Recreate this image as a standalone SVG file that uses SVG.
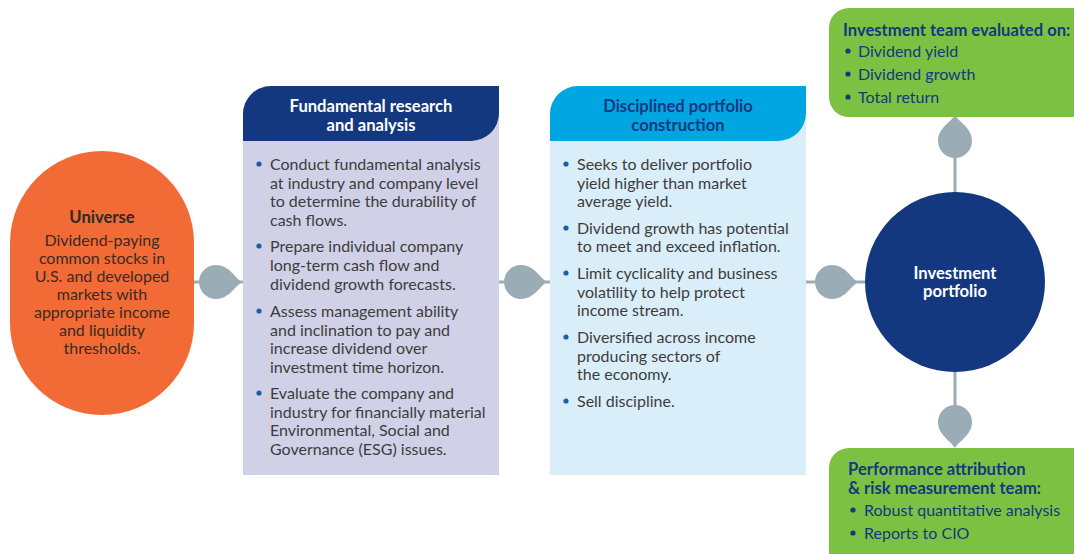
<svg xmlns="http://www.w3.org/2000/svg" width="1074" height="554" viewBox="0 0 1074 554">
<defs>
<style>
.t{font-family:Lato,"Open Sans","Liberation Sans",sans-serif;font-size:16px;fill:#3d3d3d}
.b{font-weight:bold;font-size:16.6px}
.w{fill:#ffffff}
.n{fill:#14387f}
.c{text-anchor:middle}
.bl{fill:#1a5ea8}
.bn{fill:#14387f}
.ln{stroke:#9aadb7;stroke-width:3;fill:none}
.dr{fill:#9aadb7}
</style>
<path id="drop" d="M26 0 C19 4 13 17 0 17 A17 17 0 0 1 0 -17 C13 -17 19 -4 26 0 Z"/>
</defs>
<rect width="1074" height="554" fill="#ffffff"/>

<g id="connectors">
<line class="ln" x1="190" y1="282" x2="245" y2="282"/>
<use href="#drop" class="dr" transform="translate(216,282)"/>
<line class="ln" x1="495" y1="282" x2="552" y2="282"/>
<use href="#drop" class="dr" transform="translate(521,282)"/>
<line class="ln" x1="802" y1="282" x2="868" y2="282"/>
<use href="#drop" class="dr" transform="translate(832,282)"/>
<line class="ln" x1="955" y1="120" x2="955" y2="195"/>
<use href="#drop" class="dr" transform="translate(955,141) rotate(-90)"/>
<line class="ln" x1="955" y1="370" x2="955" y2="445"/>
<use href="#drop" class="dr" transform="translate(955,422) rotate(90)"/>
</g>

<g id="universe">
<rect x="10" y="151" width="184" height="264" rx="92" ry="92" fill="#f26a35"/>
<text class="t b c" x="102" y="223" style="fill:#2b2b2b">Universe</text>
<text class="t c" x="102" y="246" style="fill:#3a2a22">Dividend-paying</text>
<text class="t c" x="102" y="264" style="fill:#3a2a22">common stocks in</text>
<text class="t c" x="102" y="282" style="fill:#3a2a22">U.S. and developed</text>
<text class="t c" x="102" y="300" style="fill:#3a2a22">markets with</text>
<text class="t c" x="102" y="318" style="fill:#3a2a22">appropriate income</text>
<text class="t c" x="102" y="336" style="fill:#3a2a22">and liquidity</text>
<text class="t c" x="102" y="354" style="fill:#3a2a22">thresholds.</text>
</g>

<g id="research">
<path d="M243 114 A28 28 0 0 1 271 86 L499 86 L499 475 L243 475 Z" fill="#d0d0e6"/>
<path d="M243 114 A28 28 0 0 1 271 86 L499 86 L499 113 A28 28 0 0 1 471 141 L243 141 Z" fill="#14387f"/>
<text class="t b w c" x="371" y="112">Fundamental research</text>
<text class="t b w c" x="371" y="131">and analysis</text>
<circle class="bl" cx="259" cy="164" r="2.6"/>
<text class="t" x="270" y="170">Conduct fundamental analysis</text>
<text class="t" x="270" y="189">at industry and company level</text>
<text class="t" x="270" y="207">to determine the durability of</text>
<text class="t" x="270" y="226">cash flows.</text>
<circle class="bl" cx="259" cy="246" r="2.6"/>
<text class="t" x="270" y="252">Prepare individual company</text>
<text class="t" x="270" y="271">long-term cash flow and</text>
<text class="t" x="270" y="290">dividend growth forecasts.</text>
<circle class="bl" cx="259" cy="311" r="2.6"/>
<text class="t" x="270" y="317">Assess management ability</text>
<text class="t" x="270" y="336">and inclination to pay and</text>
<text class="t" x="270" y="354">increase dividend over</text>
<text class="t" x="270" y="373">investment time horizon.</text>
<circle class="bl" cx="259" cy="393" r="2.6"/>
<text class="t" x="270" y="399">Evaluate the company and</text>
<text class="t" x="270" y="418">industry for financially material</text>
<text class="t" x="270" y="436">Environmental, Social and</text>
<text class="t" x="270" y="455">Governance (ESG) issues.</text>
</g>

<g id="construction">
<path d="M550 114 A28 28 0 0 1 578 86 L806 86 L806 475 L550 475 Z" fill="#d9eef9"/>
<path d="M550 114 A28 28 0 0 1 578 86 L806 86 L806 113 A28 28 0 0 1 778 141 L550 141 Z" fill="#00a6e2"/>
<text class="t b n c" x="678" y="112">Disciplined portfolio</text>
<text class="t b n c" x="678" y="131">construction</text>
<circle class="bl" cx="566" cy="164" r="2.6"/>
<text class="t" x="577" y="170">Seeks to deliver portfolio</text>
<text class="t" x="577" y="189">yield higher than market</text>
<text class="t" x="577" y="207">average yield.</text>
<circle class="bl" cx="566" cy="228" r="2.6"/>
<text class="t" x="577" y="234">Dividend growth has potential</text>
<text class="t" x="577" y="252">to meet and exceed inflation.</text>
<circle class="bl" cx="566" cy="273" r="2.6"/>
<text class="t" x="577" y="279">Limit cyclicality and business</text>
<text class="t" x="577" y="298">volatility to help protect</text>
<text class="t" x="577" y="316">income stream.</text>
<circle class="bl" cx="566" cy="337" r="2.6"/>
<text class="t" x="577" y="343">Diversified across income</text>
<text class="t" x="577" y="362">producing sectors of</text>
<text class="t" x="577" y="380">the economy.</text>
<circle class="bl" cx="566" cy="401" r="2.6"/>
<text class="t" x="577" y="407">Sell discipline.</text>
</g>

<g id="portfolio">
<circle cx="955" cy="282" r="90" fill="#14387f"/>
<text class="t b w c" x="955" y="279">Investment</text>
<text class="t b w c" x="955" y="297">portfolio</text>
</g>

<g id="team">
<rect x="829" y="8" width="270" height="109" rx="20" fill="#7dc142"/>
<text class="t b n" x="843" y="36">Investment team evaluated on:</text>
<circle class="bn" cx="848" cy="51" r="2.6"/>
<text class="t n" x="858" y="57">Dividend yield</text>
<circle class="bn" cx="848" cy="74" r="2.6"/>
<text class="t n" x="858" y="80">Dividend growth</text>
<circle class="bn" cx="848" cy="97" r="2.6"/>
<text class="t n" x="858" y="103">Total return</text>
</g>

<g id="attribution">
<rect x="829" y="448" width="270" height="130" rx="20" fill="#7dc142"/>
<text class="t b n" x="848" y="475">Performance attribution</text>
<text class="t b n" x="848" y="494">&amp; risk measurement team:</text>
<circle class="bn" cx="853" cy="510" r="2.6"/>
<text class="t n" x="864" y="516">Robust quantitative analysis</text>
<circle class="bn" cx="853" cy="533" r="2.6"/>
<text class="t n" x="864" y="539">Reports to CIO</text>
</g>
</svg>
